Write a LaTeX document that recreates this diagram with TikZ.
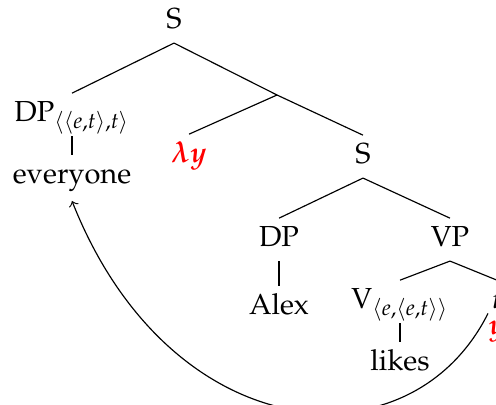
\documentclass[tikz,border=0pt]{standalone}
\usepackage{amsmath,amssymb}
\usepackage[T1]{fontenc}
\usepackage{mathpazo}
\usepackage{xcolor}

\begin{document}
\begin{tikzpicture}[x=0.345pt, y=-0.345pt,
    every node/.style={anchor=base, inner sep=2.5pt, text height=0.69em, text depth=0.25em},
    boundvar/.style={text=red, inner sep=0pt}]
    \useasboundingbox (0,0) rectangle (496,404);
    % upper part of the tree
    \node (s) at (174,28) {S};
    \node (dpq) at (72,121) {DP$_{\langle\langle e,t\rangle,t\rangle}$};
    \node (every) at (72,183) {everyone};
    \coordinate (bar) at (277,95);
    \node[text=red] (lam) at (189,162) {$\boldsymbol{\lambda y}$};
    \node (s2) at (363,163) {S};
    \draw (s.south) -- (dpq.north);
    \draw (s.south) -- (bar) -- (s2.north);
    \draw (bar) -- (lam.north);
    \draw (dpq.south) -- (every.north);
    % lower part of the tree
    \node (dpa) at (279,246) {DP};
    \node (vp) at (450,246) {VP};
    \node (alex) at (279,314) {Alex};
    \node (v) at (400,308) {V$_{\langle e,\langle e,t\rangle\rangle}$};
    \node (likes) at (400,370) {likes};
    \node (t) at (497,308) {$t$};
    \node[boundvar] (yv) at (497,334) {$\boldsymbol{y}$};
    \draw (s2.south) -- (dpa.north);
    \draw (s2.south) -- (vp.north);
    \draw (dpa.south) -- (alex.north);
    \draw (vp.south) -- (v.north);
    \draw (vp.south) -- (t.north);
    \draw (v.south) -- (likes.north);
    % movement arrow
    \draw[->] (yv.north west) .. controls +(-78,156) and +(98,248) .. ([yshift=-1pt]every.south);
\end{tikzpicture}
\end{document}
